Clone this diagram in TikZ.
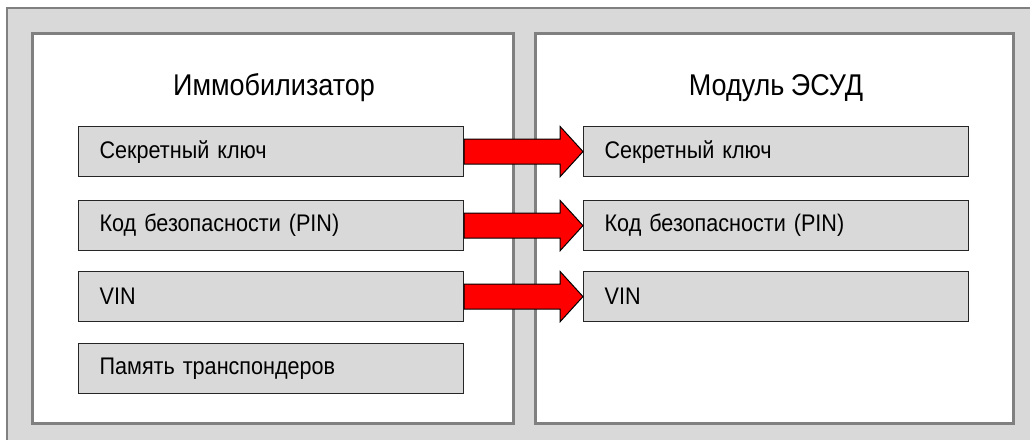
\documentclass[tikz,border=0pt]{standalone}
\usepackage{fontspec}
\setmainfont{Liberation Sans}[FakeStretch=0.9, WordSpace=0.85]
\usetikzlibrary{calc}
\definecolor{bg}{HTML}{D9D9D9}
\definecolor{frame}{HTML}{808080}
\definecolor{arrred}{HTML}{FF0000}
\newcommand\redarrow[2]{%
  \draw[arr] ($(#1.east)+(0,12.5)$) -- ($(#1.east)+(96,12.5)$) -- ($(#1.east)+(96,25)$) -- (#2.west)
    -- ($(#1.east)+(96,-25)$) -- ($(#1.east)+(96,-12.5)$) -- ($(#1.east)+(0,-12.5)$) -- cycle;}
\begin{document}
\begin{tikzpicture}[x=1pt,y=-1pt,
  panel/.style={draw=frame, line width=3pt, fill=white},
  item/.style={draw=black!85, line width=1.2pt, fill=bg, minimum width=385pt, minimum height=50pt,
    anchor=north west, text width=343pt, inner xsep=21pt, inner ysep=0pt, align=left,
    font=\fontsize{24}{28}\selectfont},
  title/.style={font=\fontsize{30}{34}\selectfont, inner sep=0pt},
  arr/.style={fill=arrred, draw=black, line width=1pt, line join=miter}]
\useasboundingbox (0,0) rectangle (1030,439);
\begin{scope}
\clip (0,0) rectangle (1030,439);
\fill[bg] (7,8) rectangle (1040,450);
\draw[frame, line width=2pt] (7,450) -- (7,8) -- (1040,8);
\end{scope}
\draw[panel] (32,33) rectangle (513,423);
\draw[panel] (535,33) rectangle (1013,423);
\node[title] (t1) at (274,88) {Иммобилизатор};
\node[title] (t2) at (776,88) {Модуль ЭСУД};
\node[item] (l1) at (78,126) {Секретный ключ};
\node[item] (l2) at (78,200) {Код безопасности (PIN)};
\node[item] (l3) at (78,271) {VIN};
\node[item] (l4) at (78,343) {Память транспондеров};
\node[item] (r1) at (583,126) {Секретный ключ};
\node[item] (r2) at (583,200) {Код безопасности (PIN)};
\node[item] (r3) at (583,271) {VIN};
\redarrow{l1}{r1}
\redarrow{l2}{r2}
\redarrow{l3}{r3}
\end{tikzpicture}
\end{document}
